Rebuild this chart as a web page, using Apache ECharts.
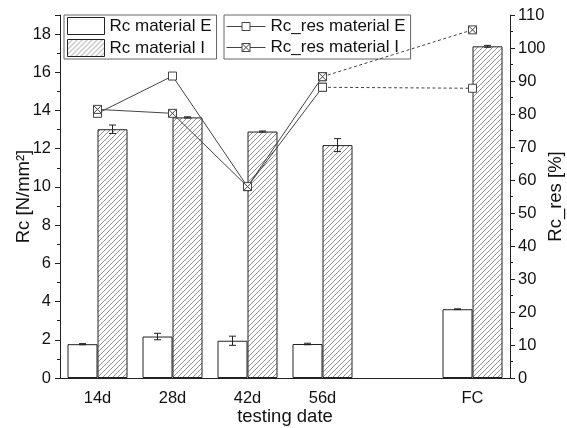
<!DOCTYPE html>
<html>
<head>
<meta charset="utf-8">
<script src="https://cdn.jsdelivr.net/npm/echarts@6/dist/echarts.min.js"></script>
<style>
  html, body { margin: 0; padding: 0; background: #fff; }
  #chart { width: 567px; height: 428px; }
</style>
</head>
<body>
<div id="chart"></div>
<script>
// data
var dates = ['14d', '28d', '42d', '56d', '', 'FC']
var rcE = [1.77, 2.17, 1.95, 1.78, null, 3.6]
var rcI = [13.02, 13.64, 12.9, 12.19, null, 17.36]
var errE = [0.03, 0.17, 0.24, 0.04, null, 0.02]
var errI = [0.22, 0.03, 0.03, 0.34, null, 0.05]
var resE = [80.2, 91.5, 58.0, 88.1, null, 87.8]
var resI = [81.4, 80.2, 58.0, 91.3, null, 105.5]

var font = 'Liberation Sans, Arial, sans-serif'
var ink = '#222'

// hatch fill ///
var hatch = document.createElement('canvas')
hatch.width = 5
hatch.height = 5
var hc = hatch.getContext('2d')
hc.fillStyle = '#fff'
hc.fillRect(0, 0, 5, 5)
hc.strokeStyle = '#777'
hc.lineWidth = 0.8
hc.beginPath()
hc.moveTo(0, 5); hc.lineTo(5, 0)
hc.moveTo(-1, 1); hc.lineTo(1, -1)
hc.moveTo(4, 6); hc.lineTo(6, 4)
hc.stroke()
var hatchFill = { image: hatch, repeat: 'repeat' }

var crossBox = 'path://M0 0L10 0L10 10L0 10Z M0 0L10 10 M10 0L0 10'

// only the 56d -> FC part is dashed
function solidPart(arr) {
  return arr.map(function (v, i) { return i <= 3 ? v : null })
}
function dashPart(arr) {
  return arr.map(function (v, i) { return i === 3 || i === 5 ? v : null })
}
function errData(vals, errs, side) {
  var out = []
  vals.forEach(function (v, i) {
    if (v == null) return
    out.push([i, v - errs[i], v + errs[i], side])
  })
  return out
}

function renderErr(params, api) {
  var i = api.value(0)
  var lo = api.coord([i, api.value(1)])
  var hi = api.coord([i, api.value(2)])
  var band = api.size([1, 0])[0]
  var cx = lo[0] + api.value(3) * band * 0.2
  var cap = 3.5
  var st = { stroke: ink, lineWidth: 1 }
  return {
    type: 'group',
    children: [
      { type: 'line', shape: { x1: cx, y1: lo[1], x2: cx, y2: hi[1] }, style: st },
      { type: 'line', shape: { x1: cx - cap, y1: lo[1], x2: cx + cap, y2: lo[1] }, style: st },
      { type: 'line', shape: { x1: cx - cap, y1: hi[1], x2: cx + cap, y2: hi[1] }, style: st }
    ]
  }
}

var lineStyleBase = { color: '#444', width: 1 }
var markE = { color: '#fff', borderColor: '#444', borderWidth: 1 }

var option = {
  animation: false,
  textStyle: { fontFamily: font },
  grid: { left: 60, right: 57, top: 15, bottom: 50, containLabel: false, outerBoundsMode: 'none' },
  legend: [
    {
      data: ['Rc material E', 'Rc material I'],
      orient: 'vertical', left: 64, top: 15, icon: 'rect',
      borderColor: '#666', borderWidth: 1, padding: [2, 5, 2, 3],
      itemWidth: 37, itemHeight: 17, itemGap: 4,
      itemStyle: { borderWidth: 1, borderColor: ink },
      selectedMode: false,
      textStyle: { fontSize: 17, color: '#111', fontFamily: font }
    },
    {
      data: ['Rc_res material E', 'Rc_res material I'],
      orient: 'vertical', left: 224, top: 15,
      borderColor: '#666', borderWidth: 1, padding: [3, 5, 3, 2],
      itemWidth: 39, itemHeight: 10, itemGap: 4,
      itemStyle: { borderWidth: 1 },
      lineStyle: { width: 1 },
      selectedMode: false,
      textStyle: { fontSize: 17, color: '#111', fontFamily: font }
    }
  ],
  xAxis: [
    {
      type: 'category', data: dates,
      name: 'testing date', nameLocation: 'middle', nameGap: 29, nameMoveOverlap: false,
      nameTextStyle: { fontSize: 18.5, color: '#111' },
      axisLine: { onZero: false, lineStyle: { color: ink } },
      axisTick: { length: 6, lineStyle: { color: ink } },
      axisLabel: { fontSize: 16.5, color: '#111', margin: 12 }
    },
    {
      type: 'category', data: dates, position: 'bottom',
      axisLine: { show: false },
      axisTick: { alignWithLabel: true, length: 3, lineStyle: { color: ink } },
      axisLabel: { show: false }
    }
  ],
  yAxis: [
    {
      type: 'value', min: 0, max: 19, interval: 2,
      name: 'Rc [N/mm²]', nameLocation: 'middle', nameGap: 27, nameRotate: 90, nameMoveOverlap: false,
      nameTextStyle: { fontSize: 18.5, color: '#111' },
      axisLine: { show: true, lineStyle: { color: ink } },
      axisTick: { show: true, length: 5, lineStyle: { color: ink } },
      minorTick: { show: true, splitNumber: 2, length: 3, lineStyle: { color: ink } },
      axisLabel: { fontSize: 16.5, color: '#111', margin: 9, showMaxLabel: false },
      splitLine: { show: false }
    },
    {
      type: 'value', min: 0, max: 110, interval: 10, position: 'right',
      name: 'Rc_res [%]', nameLocation: 'middle', nameGap: 36, nameRotate: 90, nameMoveOverlap: false,
      nameTextStyle: { fontSize: 18.5, color: '#111' },
      axisLine: { show: true, lineStyle: { color: ink } },
      axisTick: { show: true, length: 5, lineStyle: { color: ink } },
      minorTick: { show: true, splitNumber: 2, length: 3, lineStyle: { color: ink } },
      axisLabel: { fontSize: 16.5, color: '#111', margin: 8 },
      splitLine: { show: false }
    }
  ],
  series: [
    {
      name: 'Rc material E', type: 'bar', data: rcE,
      barWidth: 30, barGap: '0%', z: 2,
      itemStyle: { color: '#fff', borderColor: ink, borderWidth: 1 }
    },
    {
      name: 'Rc material I', type: 'bar', data: rcI,
      barWidth: 30, barGap: '0%', z: 2,
      itemStyle: { color: hatchFill, borderColor: ink, borderWidth: 1 }
    },
    {
      name: 'errE', type: 'custom', renderItem: renderErr,
      data: errData(rcE, errE, -1), z: 3, silent: true
    },
    {
      name: 'errI', type: 'custom', renderItem: renderErr,
      data: errData(rcI, errI, 1), z: 3, silent: true
    },
    {
      name: 'Rc_res material E dashed', type: 'line', yAxisIndex: 1,
      data: dashPart(resE), connectNulls: true, z: 4,
      symbol: 'rect', symbolSize: 8,
      lineStyle: { color: '#444', width: 1, type: [3, 2.5] }, itemStyle: markE
    },
    {
      name: 'Rc_res material I dashed', type: 'line', yAxisIndex: 1,
      data: dashPart(resI), connectNulls: true, z: 4,
      symbol: crossBox, symbolSize: 8,
      lineStyle: { color: '#444', width: 1, type: [3, 2.5] }, itemStyle: markE
    },
    {
      name: 'Rc_res material E', type: 'line', yAxisIndex: 1,
      data: solidPart(resE), z: 5,
      symbol: 'rect', symbolSize: 8,
      lineStyle: lineStyleBase, itemStyle: markE
    },
    {
      name: 'Rc_res material I', type: 'line', yAxisIndex: 1,
      data: solidPart(resI), z: 5,
      symbol: crossBox, symbolSize: 8,
      lineStyle: lineStyleBase, itemStyle: markE
    }
  ]
}

var myChart = echarts.init(document.getElementById('chart'))
myChart.setOption(option)
</script>
</body>
</html>
